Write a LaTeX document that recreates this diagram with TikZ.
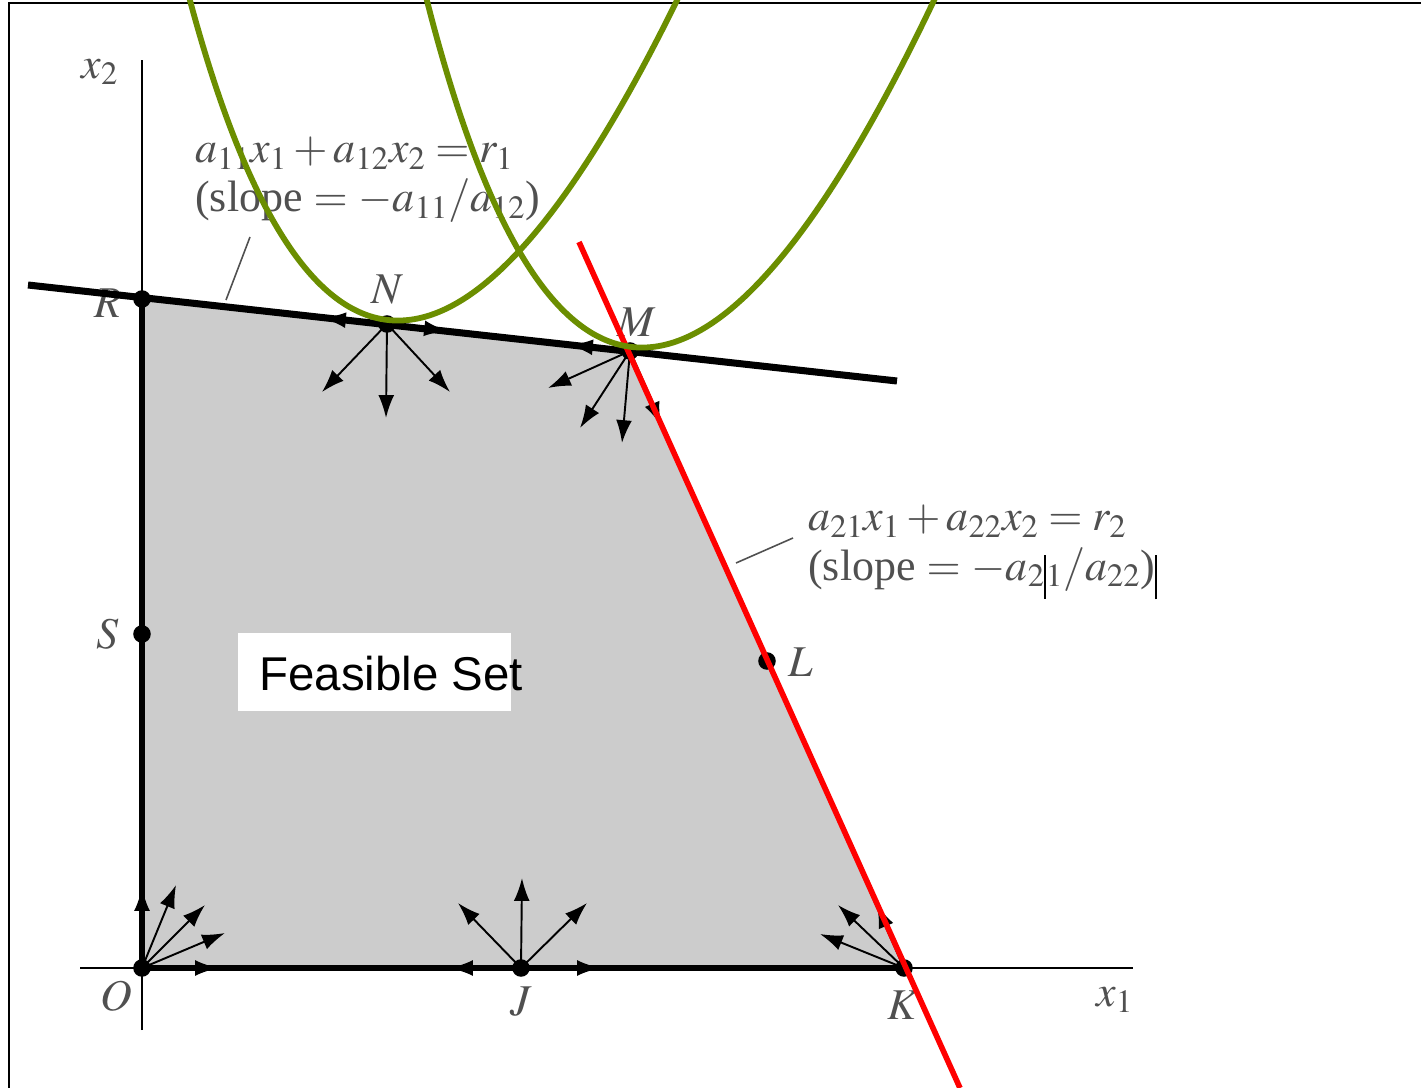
\documentclass[tikz,border=0pt]{standalone}
\usepackage{mathptmx}
\usepackage{fontspec}
\setmainfont{Liberation Serif}
\newfontfamily\arialfont{Liberation Sans}
\usetikzlibrary{arrows.meta}
\definecolor{fsgray}{RGB}{204,204,204}
\definecolor{curvegreen}{RGB}{107,142,0}
\definecolor{txtgray}{RGB}{80,80,80}
\begin{document}
\begin{tikzpicture}[x=0.02cm, y=-0.02cm,
  lbl/.style={text=txtgray, font=\fontsize{25}{28}\selectfont, inner sep=0pt},
  eqlbl/.style={lbl, anchor=base west, align=left},
  vec/.style={-{Latex[length=13pt,width=9pt]}, line width=1.1pt},
  dotnode/.style={circle, fill=black, inner sep=0pt, minimum size=10pt},
  thinline/.style={line width=1.1pt},
  edgeline/.style={line width=3.6pt},
  leader/.style={line width=0.9pt, txtgray}
]
\useasboundingbox (0,0) rectangle (1421,1088);
\fill[white] (0,0) rectangle (1421,1088);
% frame
\draw[line width=1.2pt] (9,1100) -- (9,3) -- (1430,3);
% key points
\coordinate (O) at (142,968);
\coordinate (R) at (142,299);
\coordinate (S) at (142,634);
\coordinate (N) at (387,324);
\coordinate (M) at (630,351);
\coordinate (L) at (767,661);
\coordinate (K) at (904,968);
\coordinate (J) at (521,968);
% feasible set
\fill[fsgray] (O) -- (R) -- (M) -- (K) -- cycle;
% axes
\coordinate (x1a) at (80,968);  \coordinate (x1b) at (1133,968);
\coordinate (x2a) at (142,1030); \coordinate (x2b) at (142,60);
\draw[thinline] (x1a) -- (x1b);
\draw[thinline] (x2a) -- (x2b);
% edges
\draw[edgeline] (R) -- (O) -- (K);
\draw[thinline] (M) -- (K);
% feasible set label
\fill[white] (238,633) rectangle (511,711);
\node[font=\arialfont\fontsize{27}{32}\selectfont, anchor=base west, inner sep=0pt] (fs) at (259,690) {Feasible Set};
% point labels
\node[lbl] (lx2) at (100,72) {$x_2$};
\node[lbl] (lx1) at (1115,1000) {$x_1$};
\node[lbl] (lR) at (108,303) {$R$};
\node[lbl] (lN) at (387,290) {$N$};
\node[lbl] (lM) at (637,322) {$M$};
\node[lbl] (lS) at (108,634) {$S$};
\node[lbl] (lL) at (801,662) {$L$};
\node[lbl] (lO) at (116,996) {$O$};
\node[lbl] (lJ) at (521,1002) {$J$};
\node[lbl] (lK) at (903,1005) {$K$};
% equation labels
\node[eqlbl] (e1) at (195,212) {$a_{11}x_1 + a_{12}x_2 = r_1$\\(slope $=$ $-a_{11}/a_{12}$)};
\node[eqlbl] (e2) at (808,580) {$a_{21}x_1 + a_{22}x_2 = r_2$\\(slope $=$ $-a_{2\smash{\textcolor{black}{\rule[-7pt]{1.1pt}{25pt}}}1}/a_{22}$)\textcolor{black}{\rule[-11pt]{1.2pt}{25pt}}};
% leaders
\coordinate (ld1a) at (250,237); \coordinate (ld1b) at (226,300);
\coordinate (ld2a) at (793,538); \coordinate (ld2b) at (736,563);
\draw[leader] (ld1a) -- (ld1b);
\draw[leader] (ld2a) -- (ld2b);
% constraint line 1
\coordinate (c1a) at (28,285); \coordinate (c1b) at (897,381);
\draw[line width=4pt] (c1a) -- (c1b);
% direction arrows
\foreach \dx/\dy in {0/-80, 34/-83, 63/-63, 83/-35, 76/0}
  \draw[vec] (O) -- ++(\dx,\dy);
\foreach \dx/\dy in {1/-90, -63/-65, 66/-65, -71/0, 79/0}
  \draw[vec] (J) -- ++(\dx,\dy);
\foreach \dx/\dy in {-66/-63, -84/-34, -27/-63}
  \draw[vec] (K) -- ++(\dx,\dy);
\foreach \dx/\dy in {-65/68, -1/94, 63/68, -64/-6, 60/7}
  \draw[vec] (N) -- ++(\dx,\dy);
\foreach \dx/\dy in {-82/37, -50/77, -8/92, 31/74, -60/-6}
  \draw[vec] (M) -- ++(\dx,\dy);
% dots
\foreach \p in {O,R,S,N,M,L,K,J}
  \node[dotnode] (d\p) at (\p) {};
% red constraint line
\coordinate (c2a) at (579,242); \coordinate (c2b) at (960,1088);
\draw[red, line width=3.2pt] (c2a) -- (c2b);
% green curves
\draw[curvegreen, line width=3.3pt] plot[domain=-2.7:2.9, samples=120, smooth]
  ({388+99.4*\x+6.05*\x*\x},{320+10.97*\x-54.67*\x*\x});
\draw[curvegreen, line width=3.3pt] plot[domain=-2.7:2.9, samples=120, smooth]
  ({632+99.4*\x+6.05*\x*\x},{347+10.97*\x-54.67*\x*\x});
\end{tikzpicture}
\end{document}
